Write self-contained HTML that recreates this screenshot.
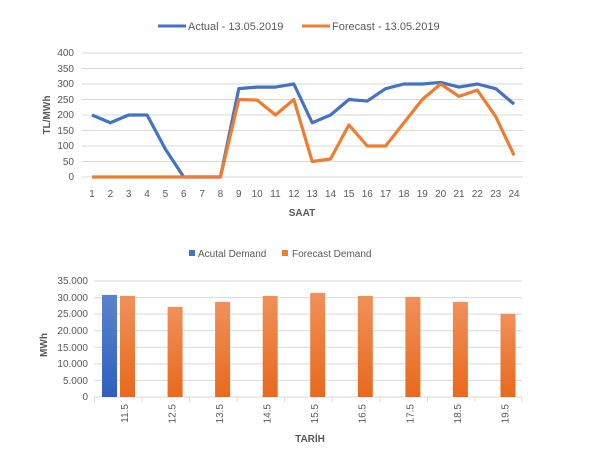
<!DOCTYPE html>
<html><head><meta charset="utf-8"><style>
html,body{margin:0;padding:0;background:#fff;}
svg{display:block;font-family:"Liberation Sans",sans-serif;}
</style></head><body>
<svg width="605" height="463" viewBox="0 0 605 463">
<defs>
<linearGradient id="og" x1="0" y1="0" x2="0" y2="1"><stop offset="0" stop-color="#f0905a"/><stop offset="1" stop-color="#e8691c"/></linearGradient>
<linearGradient id="bg" x1="0" y1="0" x2="0" y2="1"><stop offset="0" stop-color="#5b84cc"/><stop offset="1" stop-color="#2f5fbf"/></linearGradient>
</defs>
<rect width="605" height="463" fill="#fff"/>
<!-- top legend -->
<line x1="158" y1="26" x2="186" y2="26" stroke="#4472c4" stroke-width="3"/>
<text x="188" y="30" font-size="11" fill="#595959">Actual - 13.05.2019</text>
<line x1="302" y1="26" x2="330" y2="26" stroke="#ed7d31" stroke-width="3"/>
<text x="332" y="30" font-size="11" fill="#595959">Forecast - 13.05.2019</text>
<!-- top grid -->
<g stroke="#d9d9d9" stroke-width="1">
<line x1="82" x2="523" y1="53" y2="53"/><line x1="82" x2="523" y1="68.5" y2="68.5"/><line x1="82" x2="523" y1="84" y2="84"/><line x1="82" x2="523" y1="99.5" y2="99.5"/><line x1="82" x2="523" y1="115" y2="115"/><line x1="82" x2="523" y1="130.5" y2="130.5"/><line x1="82" x2="523" y1="146" y2="146"/><line x1="82" x2="523" y1="161.5" y2="161.5"/><line x1="82" x2="523" y1="177" y2="177"/>
</g>
<g font-size="10" fill="#595959" text-anchor="end">
<text x="74" y="56">400</text><text x="74" y="72">350</text><text x="74" y="87">300</text><text x="74" y="103">250</text><text x="74" y="118">200</text><text x="74" y="134">150</text><text x="74" y="149">100</text><text x="74" y="165">50</text><text x="74" y="180">0</text>
</g>
<g font-size="10" fill="#595959" text-anchor="middle">
<text x="92" y="197">1</text><text x="110.35" y="197">2</text><text x="128.7" y="197">3</text><text x="147.05" y="197">4</text><text x="165.4" y="197">5</text><text x="183.75" y="197">6</text><text x="202.1" y="197">7</text><text x="220.45" y="197">8</text><text x="238.8" y="197">9</text><text x="257.15" y="197">10</text><text x="275.5" y="197">11</text><text x="293.85" y="197">12</text><text x="312.2" y="197">13</text><text x="330.55" y="197">14</text><text x="348.9" y="197">15</text><text x="367.25" y="197">16</text><text x="385.6" y="197">17</text><text x="403.95" y="197">18</text><text x="422.3" y="197">19</text><text x="440.65" y="197">20</text><text x="459" y="197">21</text><text x="477.35" y="197">22</text><text x="495.7" y="197">23</text><text x="514.05" y="197">24</text>
</g>
<text x="302" y="216" font-size="10" font-weight="bold" fill="#595959" text-anchor="middle">SAAT</text>
<text transform="translate(50,115) rotate(-90)" font-size="10" font-weight="bold" fill="#595959" text-anchor="middle">TL/MWh</text>
<polyline fill="none" stroke="#4472c4" stroke-width="3.2" stroke-linejoin="round" points="92,115 110.35,122.75 128.7,115 147.05,115 165.4,149.1 183.75,177 202.1,177 220.45,177 238.8,88.65 257.15,87.1 275.5,87.1 293.85,84 312.2,122.75 330.55,115 348.9,99.5 367.25,101.05 385.6,88.65 403.95,84 422.3,84 440.65,82.45 459,87.1 477.35,84 495.7,88.65 514.05,104.15"/>
<polyline fill="none" stroke="#ed7d31" stroke-width="3.2" stroke-linejoin="round" points="92,177 110.35,177 128.7,177 147.05,177 165.4,177 183.75,177 202.1,177 220.45,177 238.8,99.5 257.15,100.1 275.5,115 293.85,99.5 312.2,161.5 330.55,159 348.9,124.9 367.25,146 385.6,146 403.95,122.75 422.3,99.5 440.65,84 459,96.4 477.35,90.2 495.7,116.55 514.05,155.3"/>
<!-- bottom legend -->
<rect x="189" y="250" width="6" height="6" fill="#4472c4"/>
<text x="198" y="257" font-size="10" fill="#595959">Acutal Demand</text>
<rect x="282" y="250" width="6" height="6" fill="#ed7d31"/>
<text x="292" y="257" font-size="10" fill="#595959">Forecast Demand</text>
<g stroke="#d9d9d9" stroke-width="1">
<line x1="94" x2="522" y1="281" y2="281"/><line x1="94" x2="522" y1="297.6" y2="297.6"/><line x1="94" x2="522" y1="314.1" y2="314.1"/><line x1="94" x2="522" y1="330.7" y2="330.7"/><line x1="94" x2="522" y1="347.3" y2="347.3"/><line x1="94" x2="522" y1="363.9" y2="363.9"/><line x1="94" x2="522" y1="380.4" y2="380.4"/><line x1="94" x2="522" y1="397" y2="397"/>
<line x1="94.5" x2="94.5" y1="397" y2="402"/><line x1="142" x2="142" y1="397" y2="402"/><line x1="189.6" x2="189.6" y1="397" y2="402"/><line x1="237.2" x2="237.2" y1="397" y2="402"/><line x1="284.7" x2="284.7" y1="397" y2="402"/><line x1="332.3" x2="332.3" y1="397" y2="402"/><line x1="379.9" x2="379.9" y1="397" y2="402"/><line x1="427.4" x2="427.4" y1="397" y2="402"/><line x1="475" x2="475" y1="397" y2="402"/><line x1="522" x2="522" y1="397" y2="402"/>
</g>
<g font-size="10" fill="#595959" text-anchor="end">
<text x="88" y="284">35.000</text><text x="88" y="301">30.000</text><text x="88" y="317">25.000</text><text x="88" y="334">20.000</text><text x="88" y="351">15.000</text><text x="88" y="367">10.000</text><text x="88" y="384">5.000</text><text x="88" y="400">0</text>
</g>
<rect x="102" y="294.9" width="15" height="102.1" fill="url(#bg)"/>
<g fill="url(#og)">
<rect x="120" y="295.9" width="15" height="101.1"/>
<rect x="167.6" y="306.9" width="15" height="90.1"/>
<rect x="215.1" y="301.9" width="15" height="95.1"/>
<rect x="262.7" y="295.9" width="15" height="101.1"/>
<rect x="310.2" y="292.9" width="15" height="104.1"/>
<rect x="357.8" y="295.9" width="15" height="101.1"/>
<rect x="405.4" y="296.9" width="15" height="100.1"/>
<rect x="452.9" y="301.9" width="15" height="95.1"/>
<rect x="500.5" y="313.8" width="15" height="83.2"/>
</g>
<g font-size="10" fill="#595959" text-anchor="end">
<text transform="translate(128,404) rotate(-90)">11.5</text>
<text transform="translate(175.5,404) rotate(-90)">12.5</text>
<text transform="translate(223,404) rotate(-90)">13.5</text>
<text transform="translate(270.6,404) rotate(-90)">14.5</text>
<text transform="translate(318.2,404) rotate(-90)">15.5</text>
<text transform="translate(365.7,404) rotate(-90)">16.5</text>
<text transform="translate(413.3,404) rotate(-90)">17.5</text>
<text transform="translate(460.9,404) rotate(-90)">18.5</text>
<text transform="translate(508.4,404) rotate(-90)">19.5</text>
</g>
<text x="310" y="442" font-size="10" font-weight="bold" fill="#595959" text-anchor="middle">TARİH</text>
<text transform="translate(47,345) rotate(-90)" font-size="10" font-weight="bold" fill="#595959" text-anchor="middle">MWh</text>
</svg>
</body></html>
